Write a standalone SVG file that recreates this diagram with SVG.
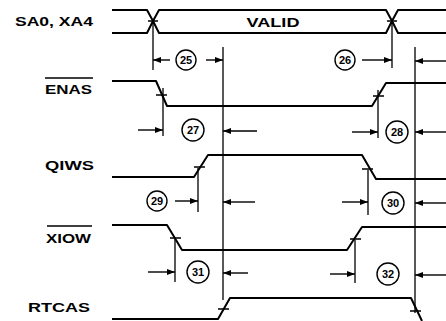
<svg xmlns="http://www.w3.org/2000/svg" width="446" height="321" viewBox="0 0 446 321">
<defs>
<style>
.sig{fill:none;stroke:#000;stroke-width:2;stroke-linejoin:round}
.ref{fill:none;stroke:#000;stroke-width:1.3}
.tick{fill:none;stroke:#000;stroke-width:1.6}
.arr{fill:none;stroke:#000;stroke-width:1.4;marker-end:url(#ah)}
.lbl{font-family:"Liberation Sans",Arial,sans-serif;font-weight:bold;font-size:13px;fill:#000}
.num{font-family:"Liberation Sans",Arial,sans-serif;font-weight:bold;font-size:11px;fill:#000;text-anchor:middle}
.circ{fill:#fff;stroke:#000;stroke-width:1.4}
.ovl{stroke:#000;stroke-width:1.3}
</style>
<marker id="ah" viewBox="0 0 8 6" refX="8" refY="3" markerWidth="8" markerHeight="6" markerUnits="userSpaceOnUse" orient="auto">
<path d="M0,0 L8,3 L0,6 Z" fill="#000"/>
</marker>
</defs>
<rect width="446" height="321" fill="#fff"/>

<g id="sa0">
<text class="lbl" x="93" y="26" text-anchor="end" textLength="78" lengthAdjust="spacingAndGlyphs">SA0, XA4</text>
<path class="sig" d="M112,10 H147 L153,21 L159,10 H386 L392,21 L398,10 H446"/>
<path class="sig" d="M112,33 H147 L153,21 L159,33 H386 L392,21 L398,33 H446"/>
<path class="tick" d="M148,21 H158 M387,21 H397"/>
<text class="lbl" x="273" y="27" text-anchor="middle" textLength="53" lengthAdjust="spacingAndGlyphs">VALID</text>
</g>

<g id="enas">
<text class="lbl" x="92" y="94" text-anchor="end" textLength="47" lengthAdjust="spacingAndGlyphs">ENAS</text>
<line class="ovl" x1="45" y1="78" x2="93" y2="78"/>
<path class="sig" d="M112,81 H156 L167,106 H372 L386,83 H446"/>
<path class="tick" d="M156,95 H167 M373,96 H384"/>
</g>

<g id="qiws">
<text class="lbl" x="94" y="170" text-anchor="end" textLength="49" lengthAdjust="spacingAndGlyphs">QIWS</text>
<path class="sig" d="M112,177 H194 L208,155 H362 L376,179 H446"/>
<path class="tick" d="M194,167 H205 M362,169 H373"/>
</g>

<g id="xiow">
<text class="lbl" x="91" y="243" text-anchor="end" textLength="45" lengthAdjust="spacingAndGlyphs">XIOW</text>
<line class="ovl" x1="47" y1="226" x2="92" y2="226"/>
<path class="sig" d="M112,225 H167 L182,250 H347 L362,227 H446"/>
<path class="tick" d="M170,238 H181 M350,239 H361"/>
</g>

<g id="rtcas">
<text class="lbl" x="90" y="312" text-anchor="end" textLength="62" lengthAdjust="spacingAndGlyphs">RTCAS</text>
<path class="sig" d="M112,319 H218 L230,298 H411 L422,321"/>
<path class="tick" d="M218,309 H229 M410,311 H421"/>
</g>

<g id="connectors">
<path class="ref" d="M153,21 V70 M392,21 V68 M223,47 V300 M415,47 V313 M163,88 V136 M378,90 V138 M198,168 V212 M368,170 V215 M175,238 V282 M355,240 V283"/>
<path class="arr" d="M170,60 H153"/>
<path class="arr" d="M206,60 H223"/>
<path class="arr" d="M362,60 H392"/>
<path class="arr" d="M446,61 H415"/>
<path class="arr" d="M138,130 H163"/>
<path class="arr" d="M257,131 H223"/>
<path class="arr" d="M352,132 H378"/>
<path class="arr" d="M446,132 H415"/>
<path class="arr" d="M175,201 H198"/>
<path class="arr" d="M255,202 H223"/>
<path class="arr" d="M342,202 H368"/>
<path class="arr" d="M446,203 H415"/>
<path class="arr" d="M148,272 H175"/>
<path class="arr" d="M248,273 H223"/>
<path class="arr" d="M330,274 H355"/>
<path class="arr" d="M446,275 H415"/>
</g>

<g id="t25"><circle class="circ" cx="186" cy="60" r="10"/><text class="num" x="186" y="64">25</text></g>
<g id="t26"><circle class="circ" cx="345" cy="60" r="10"/><text class="num" x="345" y="64">26</text></g>
<g id="t27"><circle class="circ" cx="193" cy="130" r="11"/><text class="num" x="193" y="134">27</text></g>
<g id="t28"><circle class="circ" cx="397" cy="132" r="11"/><text class="num" x="397" y="136">28</text></g>
<g id="t29"><circle class="circ" cx="157" cy="201" r="10"/><text class="num" x="157" y="205">29</text></g>
<g id="t30"><circle class="circ" cx="393" cy="203" r="11"/><text class="num" x="393" y="207">30</text></g>
<g id="t31"><circle class="circ" cx="198" cy="272" r="11"/><text class="num" x="198" y="276">31</text></g>
<g id="t32"><circle class="circ" cx="388" cy="274" r="11"/><text class="num" x="388" y="278">32</text></g>
</svg>
